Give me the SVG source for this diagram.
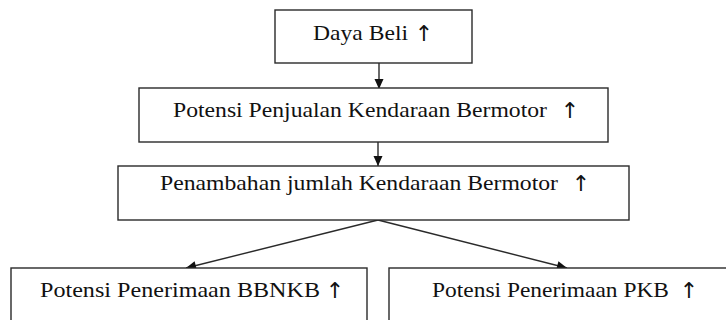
<svg xmlns="http://www.w3.org/2000/svg" width="726" height="320" viewBox="0 0 726 320">
<style>
.box{fill:#fff;stroke:#2a2a2a;stroke-width:1.4}
.t{font-family:"Liberation Serif","Times New Roman",serif;font-size:22px;fill:#111}
.a{font-family:"DejaVu Sans",sans-serif;font-size:22px;fill:#111}
.c{stroke:#2a2a2a;stroke-width:1.4;fill:none;marker-end:url(#ah)}
</style>
<defs>
<marker id="ah" markerUnits="userSpaceOnUse" markerWidth="12" markerHeight="12" viewBox="0 0 12 12" refX="11" refY="6" orient="auto">
<path d="M1,1.5 L11,6 L1,10.5 Z" fill="#111"/>
</marker>
</defs>
<rect width="726" height="320" fill="#fff"/>
<g id="connectors">
<line class="c" x1="379" y1="63" x2="379" y2="89"/>
<line class="c" x1="378" y1="142" x2="378" y2="166"/>
<line class="c" x1="378" y1="220" x2="186" y2="268"/>
<line class="c" x1="378" y1="220" x2="567" y2="268"/>
</g>
<g id="n1">
<rect class="box" x="275" y="10" width="197" height="53"/>
<text class="t" x="313" y="40" textLength="95" lengthAdjust="spacingAndGlyphs">Daya Beli</text>
<text class="a" x="424" y="41" text-anchor="middle">↑</text>
</g>
<g id="n2">
<rect class="box" x="139" y="88" width="469" height="54"/>
<text class="t" x="173" y="117" textLength="374" lengthAdjust="spacingAndGlyphs">Potensi Penjualan Kendaraan Bermotor</text>
<text class="a" x="570" y="118" text-anchor="middle">↑</text>
</g>
<g id="n3">
<rect class="box" x="118" y="166" width="511" height="54"/>
<text class="t" x="160" y="190" textLength="398" lengthAdjust="spacingAndGlyphs">Penambahan jumlah Kendaraan Bermotor</text>
<text class="a" x="581" y="191" text-anchor="middle">↑</text>
</g>
<g id="n4">
<rect class="box" x="11" y="268" width="356" height="60"/>
<text class="t" x="40" y="297" textLength="280" lengthAdjust="spacingAndGlyphs">Potensi Penerimaan BBNKB</text>
<text class="a" x="335" y="298" text-anchor="middle">↑</text>
</g>
<g id="n5">
<rect class="box" x="389" y="268" width="345" height="60"/>
<text class="t" x="432" y="297" textLength="237" lengthAdjust="spacingAndGlyphs">Potensi Penerimaan PKB</text>
<text class="a" x="689" y="298" text-anchor="middle">↑</text>
</g>
</svg>
